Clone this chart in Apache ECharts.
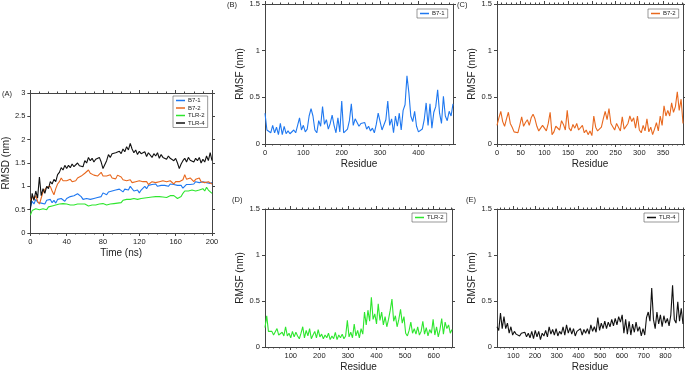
<!DOCTYPE html>
<html>
<head>
<meta charset="utf-8">
<script src="https://cdn.jsdelivr.net/npm/echarts@6/dist/echarts.min.js"></script>
<style>
  html, body { margin: 0; padding: 0; background: #fff; }
  #chart { width: 685px; height: 373px; }
</style>
</head>
<body>
<div id="chart"></div>
<script>
/** RMSD over time (ns), sampled every 2 ns from 0 to 200 */
const timeStep = 2;
const rmsdB71 = [0.55,0.68,0.62,0.72,0.66,0.70,0.64,0.68,0.62,0.70,0.66,0.72,0.65,0.70,0.64,0.72,0.68,0.74,0.70,0.68,
  0.74,0.72,0.78,0.74,0.80,0.78,0.84,0.88,0.78,0.72,0.70,0.74,0.70,0.72,0.68,0.74,0.78,0.76,0.80,0.78,
  0.86,0.84,0.82,0.88,0.86,0.90,0.88,0.92,0.88,0.94,0.90,0.88,0.94,0.98,0.92,1.00,0.96,0.90,0.88,0.92,
  0.86,0.92,0.96,1.00,0.95,1.02,1.00,1.04,1.02,1.05,1.00,1.04,1.02,1.06,1.02,1.04,1.00,1.05,1.02,1.04,
  1.00,1.02,0.98,1.02,0.96,1.00,1.04,1.06,1.04,1.08,1.05,1.10,1.06,1.08,1.04,1.10,1.06,1.08,1.12,1.06,1.08];
const rmsdB72 = [0.70,0.78,0.72,0.80,0.68,0.62,0.75,0.88,0.92,0.98,0.95,1.00,0.90,0.82,0.95,1.05,1.10,1.18,1.12,1.08,
  1.12,1.10,1.15,1.10,1.14,1.12,1.18,1.15,1.22,1.20,1.28,1.24,1.35,1.28,1.30,1.24,1.28,1.22,1.26,1.30,
  1.22,1.18,1.22,1.20,1.25,1.18,1.22,1.16,1.24,1.28,1.20,1.14,1.18,1.12,1.10,1.14,1.08,1.12,1.10,1.06,
  1.12,1.08,1.10,1.06,1.10,1.04,1.08,1.10,1.14,1.08,1.12,1.10,1.06,1.12,1.08,1.10,1.06,1.12,1.08,1.05,
  1.10,1.06,1.10,1.12,1.14,1.25,1.15,1.12,1.18,1.14,1.10,1.15,1.12,1.18,1.10,1.14,1.08,1.12,1.10,1.06,1.05];
const rmsdTlr2 = [0.38,0.48,0.45,0.52,0.48,0.50,0.46,0.52,0.54,0.50,0.56,0.53,0.58,0.55,0.60,0.58,0.62,0.58,0.63,0.60,
  0.62,0.58,0.60,0.56,0.60,0.58,0.62,0.60,0.62,0.58,0.62,0.60,0.58,0.62,0.60,0.57,0.60,0.58,0.62,0.60,
  0.63,0.62,0.60,0.64,0.62,0.65,0.63,0.66,0.64,0.68,0.65,0.70,0.68,0.72,0.69,0.72,0.70,0.74,0.70,0.72,
  0.76,0.74,0.78,0.75,0.73,0.76,0.74,0.77,0.75,0.78,0.76,0.78,0.80,0.77,0.79,0.76,0.78,0.80,0.77,0.80,
  0.76,0.74,0.70,0.78,0.85,0.90,0.86,0.90,0.88,0.92,0.88,0.90,0.86,0.92,0.88,0.95,0.90,0.98,0.92,0.88,0.85];
const rmsdTlr4 = [0.50,0.85,0.70,0.90,0.75,1.20,0.80,0.95,0.85,1.00,0.95,1.10,1.05,1.15,1.10,1.25,1.30,1.40,1.35,1.45,
  1.38,1.45,1.40,1.48,1.42,1.45,1.50,1.44,1.48,1.42,1.55,1.50,1.62,1.55,1.60,1.52,1.58,1.55,1.62,1.52,
  1.38,1.35,1.55,1.68,1.62,1.70,1.66,1.72,1.68,1.75,1.70,1.80,1.74,1.85,1.78,1.92,1.80,1.72,1.78,1.68,
  1.75,1.70,1.66,1.74,1.64,1.72,1.68,1.62,1.70,1.65,1.72,1.60,1.68,1.62,1.66,1.58,1.65,1.60,1.62,1.55,
  1.60,1.50,1.38,1.48,1.55,1.60,1.52,1.62,1.56,1.58,1.52,1.60,1.55,1.62,1.50,1.58,1.52,1.65,1.55,1.72,1.55];

/** RMSF per residue: first residue, residue step, values (nm) */
const b71Start = 0, b71Step = 5;
const rmsfB71 = [0.33,0.15,0.13,0.12,0.20,0.12,0.18,0.10,0.22,0.10,0.19,0.11,0.14,0.11,0.13,0.15,0.12,0.14,0.28,0.15,
  0.20,0.13,0.16,0.30,0.38,0.30,0.15,0.12,0.25,0.19,0.40,0.21,0.26,0.16,0.22,0.31,0.20,0.12,0.28,0.13,
  0.46,0.12,0.10,0.16,0.25,0.43,0.20,0.27,0.25,0.19,0.22,0.20,0.23,0.16,0.19,0.14,0.17,0.12,0.21,0.33,
  0.24,0.15,0.13,0.26,0.46,0.20,0.27,0.12,0.30,0.19,0.33,0.15,0.36,0.42,0.73,0.55,0.30,0.24,0.35,0.19,
  0.13,0.11,0.16,0.26,0.44,0.20,0.43,0.17,0.34,0.40,0.58,0.33,0.22,0.51,0.30,0.25,0.35,0.30,0.43];
const b72Start = 0, b72Step = 4;
const rmsfB72 = [0.20,0.28,0.35,0.24,0.19,0.27,0.34,0.22,0.18,0.13,0.15,0.12,0.20,0.29,0.19,0.23,0.26,0.20,0.28,0.32,
  0.27,0.19,0.14,0.12,0.20,0.17,0.14,0.22,0.34,0.10,0.13,0.19,0.21,0.15,0.25,0.21,0.15,0.36,0.17,0.14,
  0.21,0.17,0.22,0.15,0.13,0.20,0.12,0.15,0.10,0.14,0.09,0.30,0.18,0.14,0.12,0.18,0.27,0.35,0.26,0.38,
  0.22,0.20,0.15,0.22,0.18,0.14,0.29,0.16,0.14,0.22,0.30,0.24,0.28,0.17,0.30,0.15,0.12,0.20,0.14,0.27,
  0.13,0.18,0.10,0.16,0.23,0.14,0.30,0.20,0.41,0.30,0.36,0.30,0.44,0.34,0.40,0.56,0.36,0.48,0.22];
const tlr2Start = 10, tlr2Step = 6;
const rmsfTlr2 = [0.21,0.34,0.17,0.15,0.17,0.13,0.15,0.20,0.13,0.12,0.16,0.12,0.22,0.12,0.15,0.10,0.17,0.11,0.16,0.12,
  0.09,0.15,0.22,0.10,0.18,0.12,0.20,0.09,0.13,0.17,0.10,0.19,0.11,0.14,0.09,0.13,0.10,0.15,0.08,0.12,
  0.09,0.16,0.08,0.13,0.10,0.14,0.09,0.12,0.29,0.11,0.16,0.10,0.25,0.12,0.18,0.10,0.20,0.14,0.38,0.24,
  0.40,0.28,0.54,0.30,0.36,0.25,0.47,0.29,0.38,0.24,0.33,0.22,0.30,0.40,0.52,0.28,0.34,0.22,0.30,0.41,
  0.26,0.33,0.15,0.12,0.18,0.27,0.15,0.20,0.14,0.22,0.13,0.17,0.28,0.14,0.21,0.12,0.19,0.15,0.30,0.13,
  0.22,0.11,0.19,0.31,0.14,0.27,0.20,0.24,0.15,0.19];
const tlr4Start = 25, tlr4Step = 8;
const rmsfTlr4 = [0.22,0.18,0.37,0.20,0.33,0.20,0.26,0.15,0.22,0.13,0.17,0.14,0.16,0.12,0.15,0.13,0.16,0.11,0.15,0.10,
  0.17,0.09,0.18,0.11,0.17,0.08,0.15,0.12,0.18,0.11,0.22,0.14,0.19,0.13,0.20,0.12,0.17,0.14,0.22,0.13,
  0.24,0.15,0.21,0.14,0.20,0.12,0.17,0.15,0.20,0.13,0.19,0.15,0.20,0.14,0.24,0.17,0.22,0.16,0.32,0.18,
  0.26,0.20,0.28,0.20,0.27,0.22,0.30,0.23,0.31,0.24,0.33,0.27,0.35,0.15,0.30,0.14,0.28,0.13,0.25,0.16,
  0.27,0.17,0.22,0.12,0.20,0.13,0.32,0.38,0.28,0.64,0.30,0.20,0.38,0.25,0.35,0.22,0.34,0.26,0.31,0.23,
  0.35,0.67,0.30,0.26,0.49,0.28,0.42,0.25];

/** tick labels */
const rmsdTicks = [0, 0.5, 1, 1.5, 2, 2.5, 3];
const rmsfTicks = [0, 0.5, 1, 1.5];
const timeTicks = [0, 40, 80, 120, 160, 200];
const b71Ticks = [0, 100, 200, 300, 400];
const b72Ticks = [0, 50, 100, 150, 200, 250, 300, 350];
const tlr2Ticks = [100, 200, 300, 400, 500, 600];
const tlr4Ticks = [100, 200, 300, 400, 500, 600, 700, 800];

const COLORS = { "B7-1": "#1f78f0", "B7-2": "#e8681e", "TLR-2": "#2ee62e", "TLR-4": "#111111" };
const FONT = "'Liberation Sans', Arial, Helvetica, sans-serif";
const INK = "#444";

/** minor tick positions between min and max */
const steps = (from, to, step) => {
  const out = [];
  for (let v = from; v <= to + 1e-9; v += step) out.push(v);
  return out;
};

/** panel layout: grid boxes in px */
const panels = [
  { tag: "(A)", tagPos: [2, 94], box: [27, 93, 185, 140], x: [0, 200], xTicks: timeTicks, xMinor: 10,
    y: [0, 3], yTicks: rmsdTicks, xName: "Time (ns)", yName: "RMSD (nm)",
    legend: { left: 173, top: 96, names: ["B7-1", "B7-2", "TLR-2", "TLR-4"] } },
  { tag: "(B)", tagPos: [227, 5], box: [265, 4, 188, 140], x: [0, 490], xTicks: b71Ticks, xMinor: 20,
    y: [0, 1.5], yTicks: rmsfTicks, xName: "Residue", yName: "RMSF (nm)",
    legend: { left: 417, top: 9, names: ["B7-1"] } },
  { tag: "(C)", tagPos: [457, 5], box: [497, 4, 186, 140], x: [0, 392], xTicks: b72Ticks, xMinor: 10,
    y: [0, 1.5], yTicks: rmsfTicks, xName: "Residue", yName: "RMSF (nm)",
    legend: { left: 648, top: 9, names: ["B7-2"] } },
  { tag: "(D)", tagPos: [232, 200], box: [265, 209, 187, 139], x: [10, 664], xTicks: tlr2Ticks, xMinor: 20,
    y: [0, 1.5], yTicks: rmsfTicks, xName: "Residue", yName: "RMSF (nm)",
    legend: { left: 412, top: 213, names: ["TLR-2"] } },
  { tag: "(E)", tagPos: [466, 200], box: [497, 209, 186, 139], x: [25, 881], xTicks: tlr4Ticks, xMinor: 20,
    y: [0, 1.5], yTicks: rmsfTicks, xName: "Residue", yName: "RMSF (nm)",
    legend: { left: 644, top: 213, names: ["TLR-4"] } },
];

const lineStyle = { color: INK, width: 1 };
const grid = [], xAxis = [], yAxis = [], legend = [], graphic = [];

panels.forEach((p, g) => {
  const [left, top, width, height] = p.box;
  grid.push({ left, top, width, height });
  const [xmin, xmax] = p.x;
  const minor = steps(Math.ceil(xmin / p.xMinor) * p.xMinor, xmax, p.xMinor)
    .filter((v) => !p.xTicks.includes(v));
  const base = { gridIndex: g, type: "value", min: xmin, max: xmax, splitLine: { show: false } };
  // bottom: line, labels, major ticks
  xAxis.push({
    ...base, position: "bottom",
    axisLine: { show: true, onZero: false, lineStyle },
    axisTick: { show: true, customValues: p.xTicks, length: 3, lineStyle },
    axisLabel: { customValues: p.xTicks, fontSize: 7.5, color: "#222", fontFamily: FONT, margin: 5 },
    name: p.xName, nameLocation: "middle", nameGap: 15,
    nameTextStyle: { fontSize: 10, color: "#222", fontFamily: FONT },
  });
  // bottom minor ticks
  xAxis.push({
    ...base, position: "bottom",
    axisLine: { show: false, onZero: false },
    axisTick: { show: true, customValues: minor, length: 1.5, lineStyle },
    axisLabel: { show: false },
  });
  // top: frame line + ticks
  xAxis.push({
    ...base, position: "top",
    axisLine: { show: true, onZero: false, lineStyle },
    axisTick: { show: true, customValues: p.xTicks, length: 3, lineStyle },
    axisLabel: { show: false },
  });
  xAxis.push({
    ...base, position: "top",
    axisLine: { show: false, onZero: false },
    axisTick: { show: true, customValues: minor, length: 1.5, lineStyle },
    axisLabel: { show: false },
  });
  const ybase = { gridIndex: g, type: "value", min: p.y[0], max: p.y[1], splitLine: { show: false } };
  yAxis.push({
    ...ybase, position: "left",
    axisLine: { show: true, onZero: false, lineStyle },
    axisTick: { show: true, customValues: p.yTicks, length: 3, lineStyle },
    axisLabel: { customValues: p.yTicks, fontSize: 7.5, color: "#222", fontFamily: FONT, margin: 5 },
    name: p.yName, nameLocation: "middle", nameGap: 16,
    nameTextStyle: { fontSize: 10, color: "#222", fontFamily: FONT },
  });
  yAxis.push({
    ...ybase, position: "right",
    axisLine: { show: true, onZero: false, lineStyle },
    axisTick: { show: true, customValues: p.yTicks, length: 3, lineStyle },
    axisLabel: { show: false },
  });
  legend.push({
    orient: "vertical", left: p.legend.left, top: p.legend.top,
    data: p.legend.names.map((name) => ({ name, icon: "rect", itemStyle: { color: COLORS[name] } })),
    itemWidth: 9, itemHeight: 1.5, itemGap: 0.5,
    padding: [1, 3, 1, 3],
    borderColor: "#555", borderWidth: 0.6,
    textStyle: { fontSize: 6, color: "#222", fontFamily: FONT, lineHeight: 7, padding: [0, 0, 0, -2] },
    selectedMode: false,
  });
  graphic.push({
    type: "text", left: p.tagPos[0], top: p.tagPos[1] - 4,
    style: { text: p.tag, font: `7.5px ${FONT}`, fill: "#222" },
  });
});

/** one line series on panel g */
const line = (name, g, data) => ({
  name, type: "line", xAxisIndex: g * 4, yAxisIndex: g * 2, data,
  showSymbol: false, symbol: "none", animation: false,
  lineStyle: { width: 1.1, color: COLORS[name] }, itemStyle: { color: COLORS[name] },
});
const byTime = (vals) => vals.map((v, i) => [i * timeStep, v]);
const byResidue = (vals, start, step) => vals.map((v, i) => [start + i * step, v]);

const series = [
  line("B7-1", 0, byTime(rmsdB71)),
  line("B7-2", 0, byTime(rmsdB72)),
  line("TLR-2", 0, byTime(rmsdTlr2)),
  line("TLR-4", 0, byTime(rmsdTlr4)),
  line("B7-1", 1, byResidue(rmsfB71, b71Start, b71Step)),
  line("B7-2", 2, byResidue(rmsfB72, b72Start, b72Step)),
  line("TLR-2", 3, byResidue(rmsfTlr2, tlr2Start, tlr2Step)),
  line("TLR-4", 4, byResidue(rmsfTlr4, tlr4Start, tlr4Step)),
];

const chart = echarts.init(document.getElementById("chart"), null, { renderer: "canvas" });
chart.setOption({
  animation: false,
  backgroundColor: "#fff",
  grid, xAxis, yAxis, legend, graphic, series,
});
</script>
</body>
</html>
